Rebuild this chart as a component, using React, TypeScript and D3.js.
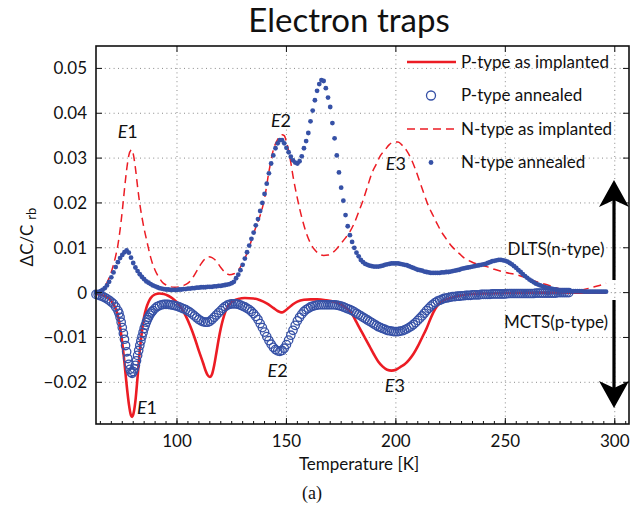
import React from "react";
import * as d3 from "d3";

const W = 631;
const H = 508;
const FONT = "Lato, 'Noto Sans', 'DejaVu Sans', sans-serif";
const RED = "#ec1c24";
const BLUE = "#3651a6";

// Axis ticks
const xTicks = [100, 150, 200, 250, 300];
const xMinorTicks = d3.range(65, 306, 5);
const yTicks = [-0.02, -0.01, 0, 0.01, 0.02, 0.03, 0.04, 0.05];
const yTickLabels = ["\u22120.02", "\u22120.01", "0", "0.01", "0.02", "0.03", "0.04", "0.05"];

// Legend entries
const legendLabels = ["P-type as implanted", "P-type annealed", "N-type as implanted", "N-type annealed"];

// P-type as implanted: [temperature K, ΔC/C]
const pImplanted: [number, number][] = [
  [63, -0.0003], [66, -0.0006], [69, -0.0013], [71, -0.0026], [72, -0.0036], [73, -0.0052],
  [74, -0.0076], [75, -0.0112], [76, -0.0156], [77, -0.0206], [78, -0.0248], [79, -0.0274],
  [79.5, -0.0277], [80, -0.0272], [81, -0.0242], [82, -0.0188], [83, -0.013], [84, -0.0086],
  [85, -0.0054], [86, -0.0034], [87, -0.0021], [88, -0.0012], [90, -0.0004], [92, -0.0002],
  [94, -0.0003], [96, -0.0007], [98, -0.0013], [100, -0.0022], [102, -0.0035], [104, -0.0052],
  [106, -0.0074], [108, -0.01], [110, -0.013], [112, -0.0158], [113, -0.0173], [114, -0.0184],
  [115, -0.0188], [116, -0.0182], [117, -0.0162], [118, -0.0134], [119, -0.0105], [120, -0.008],
  [121, -0.006], [122, -0.0044], [123, -0.0033], [124, -0.0026], [126, -0.0018], [128, -0.0014],
  [131, -0.0012], [135, -0.0013], [138, -0.0017], [141, -0.0024], [144, -0.0034], [146, -0.0041],
  [147, -0.0043], [148, -0.0044], [149, -0.0042], [151, -0.0034], [153, -0.0026], [155, -0.002],
  [158, -0.0016], [161, -0.0015], [164, -0.0015], [168, -0.0017], [172, -0.0021], [175, -0.0027],
  [178, -0.0037], [180, -0.0048], [182, -0.0066], [184, -0.0084], [186, -0.0102], [188, -0.012],
  [190, -0.0138], [192, -0.0154], [194, -0.0165], [196, -0.0172], [198, -0.0174], [200, -0.0172],
  [202, -0.0166], [204, -0.016], [206, -0.015], [208, -0.0137], [210, -0.012], [212, -0.01],
  [214, -0.008], [216, -0.0056], [218, -0.0036], [220, -0.0024], [222, -0.0017], [225, -0.0012],
  [230, -0.0006], [235, -0.0003], [240, -0.0002], [250, -0.0001], [260, 0], [280, 0], [296, 0],
];

// P-type annealed
const pAnnealed: [number, number][] = [
  [63, -0.0004], [64, -0.0005], [65, -0.0007], [66, -0.0009], [67, -0.0011], [68, -0.0014],
  [69, -0.0017], [70, -0.0021], [71, -0.0025], [72, -0.0032], [73, -0.004], [73.5, -0.0046],
  [74, -0.0055], [74.5, -0.0066], [75, -0.0078], [75.5, -0.0091], [76, -0.0104], [76.5, -0.0118],
  [77, -0.0132], [77.5, -0.0147], [78, -0.016], [78.5, -0.0171], [79, -0.0178], [79.5, -0.018],
  [80, -0.0176], [80.5, -0.017], [81, -0.0162], [81.5, -0.0152], [82, -0.014], [82.5, -0.0129],
  [83, -0.0118], [83.5, -0.0108], [84, -0.0098], [84.5, -0.0089], [85, -0.008], [85.5, -0.0073],
  [86, -0.0066], [86.5, -0.006], [87, -0.0055], [87.5, -0.005], [88, -0.0046], [88.5, -0.0043],
  [89, -0.004], [90, -0.0035], [91, -0.0031], [92, -0.0029], [93, -0.0027], [94, -0.0026],
  [95, -0.0026], [96, -0.0026], [97, -0.0027], [98, -0.0028], [99, -0.0029], [100, -0.003],
  [101, -0.0032], [102, -0.0034], [103, -0.0036], [104, -0.0038], [105, -0.0041], [106, -0.0044],
  [107, -0.0048], [108, -0.0052], [109, -0.0056], [110, -0.006], [111, -0.0063], [112, -0.0065],
  [113, -0.0066], [114, -0.0066], [115, -0.0064], [116, -0.006], [117, -0.0055], [118, -0.005],
  [119, -0.0045], [120, -0.004], [121, -0.0035], [122, -0.0031], [123, -0.0028], [124, -0.0026],
  [125, -0.0025], [126, -0.0025], [127, -0.0025], [128, -0.0026], [129, -0.0028], [130, -0.003],
  [131, -0.0032], [132, -0.0035], [133, -0.0038], [134, -0.0042], [135, -0.0047], [136, -0.0053],
  [137, -0.006], [138, -0.0069], [139, -0.0078], [140, -0.0088], [141, -0.0098], [142, -0.0107],
  [143, -0.0115], [144, -0.0122], [145, -0.0127], [146, -0.013], [147, -0.0131], [148, -0.0129],
  [149, -0.0124], [150, -0.0116], [151, -0.0106], [152, -0.0095], [153, -0.0084], [154, -0.0073],
  [155, -0.0063], [156, -0.0055], [157, -0.0048], [158, -0.0042], [159, -0.0038], [160, -0.0035],
  [161, -0.0032], [162, -0.003], [163, -0.0029], [164, -0.0028], [165, -0.0027], [166, -0.0027],
  [167, -0.0027], [168, -0.0027], [169, -0.0027], [170, -0.0027], [171, -0.0027], [172, -0.0027],
  [173, -0.0028], [174, -0.0029], [175, -0.003], [176, -0.0032], [177, -0.0034], [178, -0.0036],
  [179, -0.0038], [180, -0.004], [181, -0.0043], [182, -0.0046], [183, -0.0049], [184, -0.0052],
  [185, -0.0055], [186, -0.0058], [187, -0.0061], [188, -0.0064], [189, -0.0067], [190, -0.007],
  [191, -0.0073], [192, -0.0076], [193, -0.0078], [194, -0.008], [195, -0.0082], [196, -0.0084],
  [197, -0.0085], [198, -0.0086], [199, -0.0087], [200, -0.0087], [201, -0.0087], [202, -0.0086],
  [203, -0.0085], [204, -0.0083], [205, -0.0081], [206, -0.0078], [207, -0.0075], [208, -0.0071],
  [209, -0.0067], [210, -0.0062], [211, -0.0057], [212, -0.0052], [213, -0.0046], [214, -0.004],
  [215, -0.0035], [216, -0.003], [217, -0.0026], [218, -0.0022], [219, -0.0019], [220, -0.0017],
  [221, -0.0015], [222, -0.0013], [223, -0.0012], [224, -0.0011], [225, -0.001], [226, -0.0009],
  [227, -0.0009], [228, -0.0008], [229, -0.0008], [230, -0.0007], [231, -0.0007], [232, -0.0006],
  [233, -0.0006], [234, -0.0006], [235, -0.0005], [236, -0.0005], [237, -0.0005], [238, -0.0005],
  [239, -0.0004], [240, -0.0004], [241, -0.0004], [242, -0.0004], [243, -0.0004], [244, -0.0003],
  [245, -0.0003], [246, -0.0003], [247, -0.0003], [248, -0.0003], [249, -0.0003], [250, -0.0003],
  [251, -0.0002], [252, -0.0002], [253, -0.0002], [254, -0.0002], [255, -0.0002], [256, -0.0002],
  [257, -0.0002], [258, -0.0002], [259, -0.0002], [260, -0.0002], [261, -0.0002], [262, -0.0002],
  [263, -0.0002], [264, -0.0001], [265, -0.0001], [266, -0.0001], [267, -0.0001], [268, -0.0001],
  [269, -0.0001], [270, -0.0001], [271, -0.0001], [272, -0.0001], [273, -0.0001], [274, 0],
  [275, 0], [276, 0], [277, 0], [278, 0], [279, 0],
];

// N-type as implanted
const nImplanted: [number, number][] = [
  [63, 0], [64, 0.0001], [66, 0.0008], [68, 0.0022], [70, 0.0046], [72, 0.0082], [73, 0.0106],
  [74, 0.014], [75, 0.0182], [76, 0.023], [77, 0.0274], [78, 0.0306], [79, 0.0318], [79.5, 0.0319],
  [80, 0.031], [81, 0.0278], [82, 0.0236], [83, 0.0198], [84, 0.0168], [85, 0.0142], [86, 0.012],
  [87, 0.0098], [88, 0.0078], [89, 0.0062], [90, 0.005], [91, 0.004], [92, 0.0032], [93, 0.0025],
  [95, 0.0017], [97, 0.0013], [99, 0.0012], [101, 0.0013], [103, 0.0016], [105, 0.0021],
  [107, 0.0032], [109, 0.0048], [111, 0.0064], [113, 0.0076], [114.5, 0.008], [116, 0.0078],
  [118, 0.007], [120, 0.0056], [122, 0.0045], [124, 0.004], [126, 0.0042], [128, 0.005],
  [130, 0.0066], [132, 0.0088], [134, 0.0116], [136, 0.0146], [138, 0.0172], [140, 0.021],
  [142, 0.027], [144, 0.0318], [146, 0.0342], [148, 0.0352], [149, 0.035], [150, 0.0336],
  [151, 0.0316], [152, 0.029], [153, 0.026], [155, 0.021], [157, 0.0168], [159, 0.0134],
  [161, 0.011], [163, 0.0095], [165, 0.0086], [167, 0.0083], [169, 0.0084], [171, 0.0089],
  [173, 0.0098], [175, 0.011], [177, 0.0122], [179, 0.0136], [181, 0.0155], [183, 0.018],
  [185, 0.0206], [187, 0.0236], [189, 0.0266], [191, 0.0286], [193, 0.0306], [195, 0.0318],
  [197, 0.033], [199, 0.0336], [201, 0.0336], [203, 0.0328], [205, 0.0316], [207, 0.0298],
  [209, 0.0274], [211, 0.0246], [213, 0.0218], [215, 0.0192], [217, 0.0172], [219, 0.0152],
  [221, 0.0134], [223, 0.012], [225, 0.0106], [227, 0.0096], [229, 0.0087], [231, 0.0078],
  [234, 0.007], [238, 0.0062], [241.5, 0.0058], [245, 0.0052], [250, 0.0045], [255, 0.004],
  [260, 0.0032], [265, 0.0023], [270, 0.0016], [275, 0.0008], [280, 0.0003], [283, 0.0003],
  [286, 0.0007], [290, 0.0012], [293, 0.0016], [296, 0.0021],
];

// N-type annealed
const nAnnealed: [number, number][] = [
  [63, 0], [64, 0.0001], [65, 0.0003], [66, 0.0006], [67, 0.001], [68, 0.0016], [69, 0.0024],
  [70, 0.0034], [71, 0.0045], [72, 0.0057], [73, 0.0068], [74, 0.0077], [75, 0.0084], [76, 0.009],
  [77, 0.0094], [78, 0.0089], [79, 0.0078], [80, 0.0066], [81, 0.0056], [82, 0.0048], [83, 0.0041],
  [84, 0.0035], [85, 0.003], [86, 0.0025], [87, 0.0022], [88, 0.0019], [89, 0.0016], [90, 0.0014],
  [91, 0.0012], [92, 0.001], [93, 0.0009], [94, 0.0008], [95, 0.0007], [96, 0.0007], [97, 0.0006],
  [98, 0.0006], [99, 0.0006], [100, 0.0006], [101, 0.0007], [102, 0.0007], [103, 0.0008],
  [104, 0.0008], [105, 0.0009], [106, 0.0009], [107, 0.001], [108, 0.001], [109, 0.0011],
  [110, 0.0011], [111, 0.0012], [112, 0.0012], [113, 0.0012], [114, 0.0013], [115, 0.0013],
  [116, 0.0013], [117, 0.0014], [118, 0.0014], [119, 0.0015], [120, 0.0015], [121, 0.0016],
  [122, 0.0017], [123, 0.0018], [124, 0.0019], [125, 0.0021], [126, 0.0024], [127, 0.0032],
  [128, 0.004], [129, 0.005], [130, 0.0062], [131, 0.0076], [132, 0.009], [133, 0.0105],
  [134, 0.012], [135, 0.0134], [136, 0.015], [137, 0.0164], [138, 0.0182], [139, 0.02],
  [140, 0.022], [141, 0.0243], [142, 0.0266], [143, 0.0288], [144, 0.0306], [145, 0.0322],
  [146, 0.0333], [147, 0.034], [148, 0.034], [149, 0.0333], [150, 0.0323], [151, 0.0313],
  [152, 0.0303], [153, 0.0295], [154, 0.029], [155, 0.0288], [156, 0.0293], [157, 0.0304],
  [158, 0.0322], [159, 0.0338], [160, 0.0356], [161, 0.0382], [162, 0.0406], [163, 0.0429],
  [164, 0.045], [165, 0.0465], [166, 0.0474], [167, 0.0472], [168, 0.0456], [169, 0.0435],
  [170, 0.0414], [171, 0.0378], [172, 0.0344], [173, 0.0306], [174, 0.0268], [175, 0.0234],
  [176, 0.0205], [177, 0.0173], [178, 0.0148], [179, 0.0128], [180, 0.0113], [181, 0.01],
  [182, 0.0089], [183, 0.0081], [184, 0.0073], [185, 0.0068], [186, 0.0064], [187, 0.0062],
  [188, 0.006], [189, 0.0059], [190, 0.0058], [191, 0.0058], [192, 0.0058], [193, 0.0059],
  [194, 0.006], [195, 0.0062], [196, 0.0063], [197, 0.0064], [198, 0.0065], [199, 0.0065],
  [200, 0.0065], [201, 0.0065], [202, 0.0064], [203, 0.0063], [204, 0.0062], [205, 0.0061],
  [206, 0.0059], [207, 0.0057], [208, 0.0055], [209, 0.0053], [210, 0.0051], [211, 0.005],
  [212, 0.0049], [213, 0.0047], [214, 0.0046], [215, 0.0045], [216, 0.0044], [217, 0.0044],
  [218, 0.0044], [219, 0.0044], [220, 0.0044], [221, 0.0045], [222, 0.0045], [223, 0.0046],
  [224, 0.0046], [225, 0.0047], [226, 0.0048], [227, 0.0049], [228, 0.005], [229, 0.0051],
  [230, 0.0053], [231, 0.0054], [232, 0.0055], [233, 0.0056], [234, 0.0057], [235, 0.0058],
  [236, 0.0059], [237, 0.006], [238, 0.0061], [239, 0.0062], [240, 0.0063], [241, 0.0064],
  [242, 0.0066], [243, 0.0068], [244, 0.007], [245, 0.0071], [246, 0.0072], [247, 0.0073],
  [248, 0.0073], [249, 0.0072], [250, 0.0071], [251, 0.0069], [252, 0.0066], [253, 0.0063],
  [254, 0.0059], [255, 0.0055], [256, 0.005], [257, 0.0046], [258, 0.0041], [259, 0.0037],
  [260, 0.0033], [261, 0.0029], [262, 0.0026], [263, 0.0023], [264, 0.002], [265, 0.0018],
  [266, 0.0016], [267, 0.0014], [268, 0.0012], [269, 0.0011], [270, 0.001], [271, 0.0009],
  [272, 0.0008], [273, 0.0007], [274, 0.0006], [275, 0.0005], [276, 0.0005], [277, 0.0004],
  [278, 0.0004], [279, 0.0004], [280, 0.0003], [281, 0.0003], [282, 0.0003], [283, 0.0003],
  [284, 0.0003], [285, 0.0003], [286, 0.0002], [287, 0.0002], [288, 0.0002], [289, 0.0002],
  [290, 0.0002], [291, 0.0002], [292, 0.0002], [293, 0.0002], [294, 0.0002], [295, 0.0002],
  [296, 0.0002],
];

// Trap level annotations: [label number, temperature, ΔC/C position]
const trapLabels: [string, number, number][] = [
  ["1", 77.5, 0.0358],
  ["2", 147.5, 0.0384],
  ["3", 200, 0.0288],
  ["1", 86.3, -0.0256],
  ["2", 146, -0.0174],
  ["3", 199.5, -0.0207],
];

const PLOT = { left: 96, right: 629, top: 46, bottom: 424 };

export default function App() {
  const x = d3.scaleLinear().domain([63, 306.5]).range([PLOT.left, PLOT.right]);
  const y = d3.scaleLinear().domain([-0.0293, 0.055]).range([PLOT.bottom, PLOT.top]);

  const line = d3
    .line<[number, number]>()
    .x((d) => x(d[0]))
    .y((d) => y(d[1]))
    .curve(d3.curveMonotoneX);

  const legendY = [62, 95.5, 129, 162.5];
  const ax = 614;

  return (
    <svg
      width={W}
      height={H}
      viewBox={`0 0 ${W} ${H}`}
      style={{ position: "absolute", left: 0, top: 0, background: "#fff" }}
      fontFamily={FONT}
    >
      <rect x={0} y={0} width={W} height={H} fill="#fff" />

      {/* title */}
      <text x={349} y={32} fontSize={33} textAnchor="middle" fill="#111">
        Electron traps
      </text>

      {/* dotted grid */}
      <g stroke="#8a8a8a" strokeWidth={1} strokeDasharray="1 3.4">
        {xTicks.map((t) => (
          <line key={`gx${t}`} x1={x(t)} x2={x(t)} y1={PLOT.top} y2={PLOT.bottom} />
        ))}
        {yTicks.map((t) => (
          <line key={`gy${t}`} x1={PLOT.left} x2={PLOT.right} y1={y(t)} y2={y(t)} />
        ))}
      </g>

      {/* series */}
      <path d={line(pImplanted) ?? ""} fill="none" stroke={RED} strokeWidth={2.6} />
      <g fill="none" stroke={BLUE} strokeWidth={1.3}>
        {pAnnealed.map((d, i) => (
          <circle key={`pa${i}`} cx={x(d[0])} cy={y(d[1])} r={4.2} />
        ))}
      </g>
      <path
        d={line(nImplanted) ?? ""}
        fill="none"
        stroke={RED}
        strokeWidth={1.5}
        strokeDasharray="8 5"
      />
      <g fill={BLUE}>
        {nAnnealed.map((d, i) => (
          <circle key={`na${i}`} cx={x(d[0])} cy={y(d[1])} r={2.4} />
        ))}
      </g>

      {/* axes box */}
      <rect
        x={PLOT.left}
        y={PLOT.top}
        width={PLOT.right - PLOT.left}
        height={PLOT.bottom - PLOT.top}
        fill="none"
        stroke="#111"
        strokeWidth={1.6}
      />
      <g stroke="#111" strokeWidth={1}>
        {xMinorTicks.map((t) => (
          <line key={`mx${t}`} x1={x(t)} x2={x(t)} y1={PLOT.bottom} y2={PLOT.bottom - 3} />
        ))}
        {xTicks.map((t) => (
          <g key={`tx${t}`}>
            <line x1={x(t)} x2={x(t)} y1={PLOT.bottom} y2={PLOT.bottom - 6} />
            <line x1={x(t)} x2={x(t)} y1={PLOT.top} y2={PLOT.top + 6} />
          </g>
        ))}
        {yTicks.map((t) => (
          <g key={`ty${t}`}>
            <line x1={PLOT.left} x2={PLOT.left + 6} y1={y(t)} y2={y(t)} />
            <line x1={PLOT.right} x2={PLOT.right - 6} y1={y(t)} y2={y(t)} />
          </g>
        ))}
      </g>

      {/* tick labels */}
      <g fontSize={17} fill="#111">
        {xTicks.map((t) => (
          <text key={`lx${t}`} x={x(t)} y={447} textAnchor="middle">
            {t}
          </text>
        ))}
        {yTicks.map((t, i) => (
          <text key={`ly${t}`} x={87} y={y(t)} dy="0.35em" textAnchor="end">
            {yTickLabels[i]}
          </text>
        ))}
      </g>

      {/* axis titles */}
      <text x={359} y={470} fontSize={17} textAnchor="middle" fill="#111">
        Temperature [K]
      </text>
      <text
        transform="translate(33,237) rotate(-90)"
        fontSize={17}
        textAnchor="middle"
        fill="#111"
      >
        ΔC/C
        <tspan fontSize={13} dx={5} dy={3}>
          rb
        </tspan>
      </text>
      <text
        x={312}
        y={499}
        fontSize={18}
        textAnchor="middle"
        fill="#111"
        fontFamily="'Liberation Serif', 'DejaVu Serif', serif"
      >
        (a)
      </text>

      {/* trap labels */}
      <g fontSize={18} fill="#111">
        {trapLabels.map(([n, t, v], i) => (
          <text key={`tl${i}`} x={x(t)} y={y(v)} textAnchor="middle" dy="0.35em">
            <tspan fontStyle="italic">E</tspan>
            {n}
          </text>
        ))}
      </g>

      {/* legend */}
      <g>
        <line x1={407} x2={456} y1={legendY[0]} y2={legendY[0]} stroke={RED} strokeWidth={2.6} />
        <circle cx={431} cy={legendY[1]} r={4.5} fill="none" stroke={BLUE} strokeWidth={1.3} />
        <line
          x1={407}
          x2={456}
          y1={legendY[2]}
          y2={legendY[2]}
          stroke={RED}
          strokeWidth={1.5}
          strokeDasharray="8 5"
        />
        <circle cx={431} cy={legendY[3]} r={2.4} fill={BLUE} />
        {legendLabels.map((s, i) => (
          <text key={s} x={461} y={legendY[i]} dy="0.35em" fontSize={17} fill="#111">
            {s}
          </text>
        ))}
      </g>

      {/* DLTS / MCTS arrows */}
      <g fill="#000" stroke="none">
        <rect x={ax - 1.6} y={200} width={3.2} height={80} />
        <path d={`M${ax},180 L${ax + 15},207 L${ax},200 L${ax - 15},207 Z`} />
        <rect x={ax - 1.6} y={300} width={3.2} height={88} />
        <path d={`M${ax},408 L${ax + 15},381 L${ax},388 L${ax - 15},381 Z`} />
      </g>
      <text x={556} y={249} dy="0.35em" fontSize={17} textAnchor="middle" fill="#111">
        DLTS(n-type)
      </text>
      <text x={556} y={322} dy="0.35em" fontSize={17} textAnchor="middle" fill="#111">
        MCTS(p-type)
      </text>
    </svg>
  );
}
